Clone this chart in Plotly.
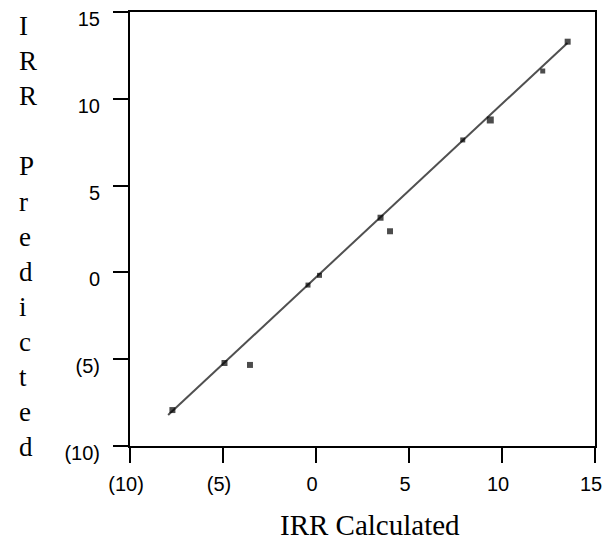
import plotly.graph_objects as go

# Data
irr_calculated = [-7.72, -4.92, -3.55, -0.43, 0.19, 3.47, 3.98, 7.89, 9.37, 12.19, 13.53]
irr_predicted = [-7.93, -5.22, -5.33, -0.73, -0.17, 3.15, 2.37, 7.63, 8.78, 11.60, 13.29]
fit_x = [-7.95, 13.52]
fit_y = [-8.22, 13.22]
tick_values = [-10, -5, 0, 5, 10, 15]
tick_labels = ["(10)", "(5)", "0", "5", "10", "15"]
x_title = "IRR Calculated"
y_title = "IRR Predicted"

W, H = 610, 545
L, R, T, B = 130, 8, 12, 99
marker_sizes = [6, 6, 6, 5, 5, 6, 6, 5, 7, 5, 6]

tick_font = dict(family="Liberation Sans Narrow, Arial Narrow, Liberation Sans, Arial, sans-serif",
                 size=20, color="black")
serif = "Liberation Serif, Times New Roman, serif"

fig = go.Figure()
fig.add_trace(go.Scatter(x=fit_x, y=fit_y, mode="lines",
                         line=dict(color="#505050", width=2), hoverinfo="skip"))
fig.add_trace(go.Scatter(x=irr_calculated, y=irr_predicted, mode="markers",
                         marker=dict(symbol="square", size=marker_sizes, color="black",
                                     line=dict(width=0))))

axis_common = dict(range=[-10, 15], tickmode="array", tickvals=tick_values, ticktext=tick_labels,
                   showgrid=False, zeroline=False, showline=True, linecolor="black", linewidth=2,
                   mirror=True, ticks="outside", ticklen=15, tickwidth=2, tickcolor="black",
                   tickfont=tick_font)

fig.update_xaxes(**axis_common, ticklabelshift=-4, ticklabelstandoff=4)
fig.update_yaxes(**axis_common, ticklabelshift=7, ticklabelstandoff=9)

# x-axis title
fig.add_annotation(text=x_title, xref="paper", yref="paper",
                   x=(374 - L) / (W - L - R), y=-(525 - (H - B)) / (H - T - B),
                   xanchor="center", yanchor="middle", showarrow=False,
                   font=dict(family=serif, size=29, color="black"))

# y-axis title, one letter per line
letters = "<br>".join(ch if ch != " " else "&nbsp;" for ch in y_title)
fig.add_annotation(text=letters, xref="paper", yref="paper",
                   x=(15 - L) / (W - L - R), y=((H - B) - 237) / (H - T - B),
                   xanchor="left", yanchor="middle", align="left", showarrow=False,
                   font=dict(family=serif, size=27, color="black"))

fig.update_layout(width=W, height=H, margin=dict(l=L, r=R, t=T, b=B),
                  paper_bgcolor="white", plot_bgcolor="white", showlegend=False)

fig.write_html("out.html")
